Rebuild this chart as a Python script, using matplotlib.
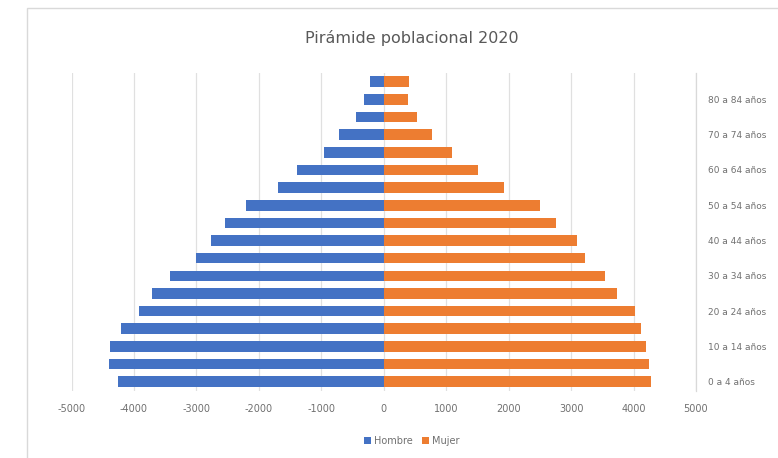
import matplotlib
matplotlib.use("Agg")
import matplotlib.pyplot as plt
from matplotlib.patches import Rectangle
import numpy as np

plt.rcParams['font.family'] = ['DejaVu Sans']
plt.rcParams['axes.unicode_minus'] = False

categories = ["0 a 4 años", "5 a 9 años", "10 a 14 años", "15 a 19 años",
              "20 a 24 años", "25 a 29 años", "30 a 34 años", "35 a 39 años",
              "40 a 44 años", "45 a 49 años", "50 a 54 años", "55 a 59 años",
              "60 a 64 años", "65 a 69 años", "70 a 74 años", "75 a 79 años",
              "80 a 84 años", "85 y más años"]
hombres = [4250, 4400, 4390, 4210, 3920, 3710, 3420, 3010, 2760, 2550,
           2200, 1700, 1390, 950, 710, 440, 320, 220]
mujeres = [4275, 4255, 4205, 4115, 4030, 3740, 3545, 3215, 3100, 2760,
           2510, 1930, 1505, 1085, 780, 530, 390, 405]
x_ticks = [-5000, -4000, -3000, -2000, -1000, 0, 1000, 2000, 3000, 4000, 5000]

blue = "#4472C4"
orange = "#ED7D31"
txt = "#707070"
grid = "#e0e0e0"

fig = plt.figure(figsize=(7.78, 4.58), dpi=100)
fig.patch.set_facecolor("white")

# chart area border
fig.patches.append(Rectangle((27/778, -0.05), 1.0, 1 - 8/458 + 0.05,
                             transform=fig.transFigure, fill=False,
                             edgecolor="#d9d9d9", linewidth=1.0))

ax = fig.add_axes([71.5/778, 1 - 390.5/458, (696 - 71.5)/778, (390.5 - 72.9)/458])
y = np.arange(len(categories))
ax.barh(y, [-v for v in hombres], height=0.6, color=blue, label="Hombre", zorder=3)
ax.barh(y, mujeres, height=0.6, color=orange, label="Mujer", zorder=3)

ax.set_xlim(-5000, 5000)
ax.set_ylim(-0.5, len(categories) - 0.5)
ax.set_xticks(x_ticks)
ax.set_xticklabels([str(t) for t in x_ticks], fontsize=7, color=txt)
ax.xaxis.grid(True, color=grid, linewidth=0.9, zorder=0)
ax.set_axisbelow(True)

ax.yaxis.tick_right()
ax.set_yticks(y)
ax.set_yticklabels([c if i % 2 == 0 else "" for i, c in enumerate(categories)],
                   fontsize=6.5, color=txt, ha="left")
ax.tick_params(axis="y", length=0, pad=9)
ax.tick_params(axis="x", length=0, pad=10)

for s in ["left", "top", "bottom"]:
    ax.spines[s].set_visible(False)
ax.spines["right"].set_color("#d9d9d9")
ax.spines["right"].set_linewidth(0.9)

fig.text(412/778, 1 - 38/458, "Pirámide poblacional 2020", ha="center", va="center",
         fontsize=11.5, color="#595959")

fig.legend(loc="center", bbox_to_anchor=(412/778, 1 - 441/458), ncol=2,
           frameon=False, fontsize=7, labelcolor=txt, handlelength=0.7,
           handleheight=0.7, handletextpad=0.3, columnspacing=1.0)

fig.savefig("out.png", dpi=100, facecolor="white")
